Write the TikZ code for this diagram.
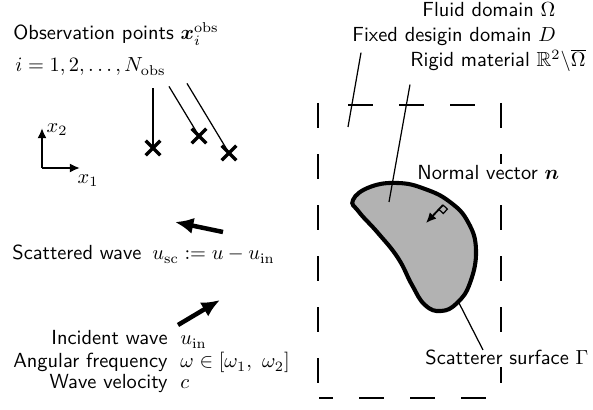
\documentclass[tikz,border=0pt]{standalone}
\usepackage{amsmath,amssymb}
\usetikzlibrary{arrows.meta,shapes.misc}

\tikzset{
  txt/.style={font=\sffamily, inner sep=1pt},
  leader/.style={line width=0.6pt},
  obsmark/.style={cross out, draw, line width=1.6pt, minimum size=5.6pt, inner sep=0pt},
  wave/.style={line width=2.2pt, -{Latex[length=9pt,width=8pt]}},
  axis/.style={line width=1.1pt, -{Latex[length=5pt,width=4.5pt]}},
  domainedge/.style={line width=1.1pt, dash pattern=on 12.3pt off 12.7pt},
  scatterer/.style={fill=black!30, draw=black, line width=2pt},
}

\begin{document}
\begin{tikzpicture}[x=0.49pt, y=-0.49pt]
    \useasboundingbox (0,0) rectangle (593,410);

    % Fixed design domain D
    \draw[domainedge] (348,105) -- (501,105);
    \draw[domainedge] (318,103) -- (318,398);
    \draw[domainedge] (501,103) -- (501,398);
    \draw[domainedge, dash phase=5.4pt] (319,398) -- (501,398);

    % Scatterer
    \filldraw[scatterer] plot[smooth cycle, tension=0.75] coordinates {
        (353,200) (370,187) (398,183) (425,189) (450,202) (468,222)
        (476,250) (470,283) (457,303) (441,311) (425,305) (412,285)
        (398,258) (378,233) (359,212)};

    \coordinate (rigidpt) at (389,202);
    \coordinate (dpt) at (348,127);
    \coordinate (gammapt) at (459,303);

    % Normal vector
    \coordinate (npt) at (443,205);
    \coordinate (ntip) at (426,223);
    \draw[line width=0.9pt, -{Latex[length=5pt,width=4.5pt]}] (npt) -- (ntip);
    \draw[line width=0.6pt] (npt) -- ++(4.4,4.1) -- ++(-4.1,4.4) -- ++(-4.4,-4.1);

    % Labels, right side
    \node[txt, anchor=base west] (fluid) at (420,17) {Fluid domain $\Omega$};
    \node[txt, anchor=base west] (fixed) at (350,42) {Fixed desigin domain $D$};
    \node[txt, anchor=base west] (rigid) at (408,67) {Rigid material $\mathbb{R}^2\backslash\overline{\Omega}$};
    \node[txt, anchor=base west, fill=white] (normal) at (415,180) {Normal vector $\boldsymbol{n}$};
    \node[txt, anchor=base west, fill=white] (scat) at (423,365) {Scatterer surface $\Gamma$};

    \draw[leader] ([shift={(11,4)}]fixed.south west) -- (dpt);
    \draw[leader] ([shift={(2,10)}]rigid.south west) -- (rigidpt);
    \draw[leader] (gammapt) -- ([shift={(60,2)}]scat.north west);

    % Observation points
    \node[txt, anchor=base west] (obs) at (11,40) {Observation points $\boldsymbol{x}_i^{\mathrm{obs}}$};
    \node[txt, anchor=base west] (obsrange) at (13,72) {$i=1,2,\ldots,N_{\mathrm{obs}}$};
    \node[obsmark] (c1) at (153,148) {};
    \node[obsmark] (c2) at (199,136) {};
    \node[obsmark] (c3) at (229,153) {};
    \draw[leader] ([shift={(140,10)}]obsrange.south west) -- (c1.center);
    \draw[leader] ([shift={(156,8)}]obsrange.south west) -- (c2.center);
    \draw[leader] ([shift={(174,5)}]obsrange.south west) -- (c3.center);

    % Coordinate axes
    \coordinate (origin) at (42,168);
    \coordinate (x2end) at (42,128);
    \coordinate (x1end) at (80,168);
    \draw[axis] (origin) -- (x2end);
    \draw[axis] (origin) -- (x1end);
    \node (x2lab) at (57,130) {$x_2$};
    \node (x1lab) at (88,181) {$x_1$};

    % Waves
    \coordinate (sctail) at (223,232);
    \coordinate (schead) at (175,222);
    \draw[wave] (sctail) -- (schead);
    \node[txt, anchor=base west] (scwave) at (10,260) {Scattered wave};
    \node[txt, anchor=base west] (scdef) at (150,260) {$u_{\mathrm{sc}} := u - u_{\mathrm{in}}$};

    \coordinate (intail) at (178,325);
    \coordinate (inhead) at (220,300);
    \draw[wave] (intail) -- (inhead);
    \node[txt, anchor=base east] (inwave) at (170,345) {Incident wave};
    \node[txt, anchor=base west] (indef) at (178,345) {$u_{\mathrm{in}}$};
    \node[txt, anchor=base east] (freq) at (170,368) {Angular frequency};
    \node[txt, anchor=base west] (freqdef) at (178,368) {$\omega \in [\omega_1,\ \omega_2]$};
    \node[txt, anchor=base east] (vel) at (170,389) {Wave velocity};
    \node[txt, anchor=base west] (veldef) at (178,389) {$c$};

\end{tikzpicture}
\end{document}
